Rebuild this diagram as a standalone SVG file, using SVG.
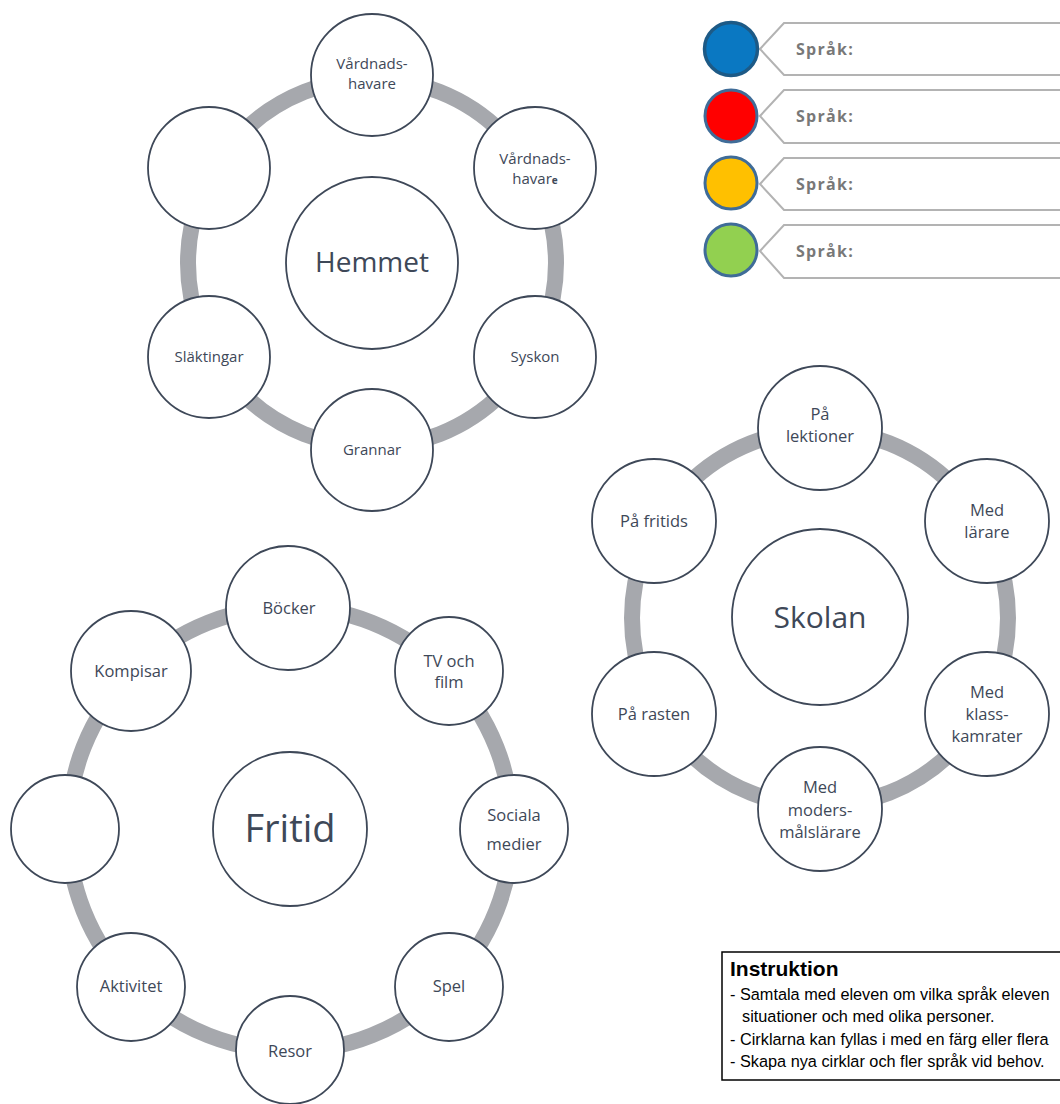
<svg xmlns="http://www.w3.org/2000/svg" width="1060" height="1104" viewBox="0 0 1060 1104">
<style>
.ring{fill:none;stroke:#a6a8ad;stroke-width:16}
.n{fill:#fff;stroke:#3e4858;stroke-width:1.8}
.t{font-family:"Open Sans","Noto Sans",sans-serif;fill:#3e4858;text-anchor:middle}
.s15{font-size:15px}
.s16{font-size:16.5px}
.tag{fill:#fff;stroke:#b3b3b3;stroke-width:2}
.lg{font-family:"Open Sans","DejaVu Sans",sans-serif;font-weight:bold;font-size:16px;fill:#787878;letter-spacing:1.3px}
.dot{stroke:#3f6c98;stroke-width:3}
.ins{font-family:"Liberation Sans",Arial,sans-serif;fill:#000}
</style>
<rect width="1060" height="1104" fill="#fff"/>
<g id="connectors">
<circle class="ring" cx="372" cy="263" r="184"/>
<circle class="ring" cx="820" cy="618" r="188"/>
<circle class="ring" cx="290" cy="829" r="222"/>
</g>
<g id="hemmet">
<g id="hemmet-center"><circle class="n" cx="372" cy="263" r="86"/><text class="t" x="372" y="272" font-size="28">Hemmet</text></g>
<g id="h-vardnadshavare1"><circle class="n" cx="372" cy="75" r="61"/><text class="t s15" x="372" y="69">Vårdnads-</text><text class="t s15" x="372" y="89">havare</text></g>
<g id="h-vardnadshavare2"><circle class="n" cx="535" cy="168" r="61"/><text class="t s15" x="535" y="164">Vårdnads-</text><text class="t s15" x="535" y="184">havar<tspan font-size="10" font-weight="bold">e</tspan></text></g>
<g id="h-syskon"><circle class="n" cx="535" cy="357" r="61"/><text class="t s15" x="535" y="362">Syskon</text></g>
<g id="h-grannar"><circle class="n" cx="372" cy="450" r="61"/><text class="t s15" x="372" y="455">Grannar</text></g>
<g id="h-slaktingar"><circle class="n" cx="209" cy="357" r="61"/><text class="t s15" x="209" y="362">Släktingar</text></g>
<g id="h-empty"><circle class="n" cx="209" cy="168" r="61"/></g>
</g>
<g id="skolan">
<g id="skolan-center"><circle class="n" cx="820" cy="617" r="88"/><text class="t" x="820" y="628" font-size="30">Skolan</text></g>
<g id="s-lektioner"><circle class="n" cx="820" cy="428" r="62"/><text class="t s16" x="820" y="420">På</text><text class="t s16" x="820" y="442">lektioner</text></g>
<g id="s-larare"><circle class="n" cx="987" cy="521" r="62"/><text class="t s16" x="987" y="516">Med</text><text class="t s16" x="987" y="538">lärare</text></g>
<g id="s-klasskamrater"><circle class="n" cx="987" cy="714" r="62"/><text class="t s16" x="987" y="698">Med</text><text class="t s16" x="987" y="720">klass-</text><text class="t s16" x="987" y="742">kamrater</text></g>
<g id="s-modersmal"><circle class="n" cx="820" cy="809" r="62"/><text class="t s16" x="820" y="793">Med</text><text class="t s16" x="820" y="816">moders-</text><text class="t s16" x="820" y="838">målslärare</text></g>
<g id="s-rasten"><circle class="n" cx="654" cy="714" r="62"/><text class="t s16" x="654" y="720">På rasten</text></g>
<g id="s-fritids"><circle class="n" cx="654" cy="521" r="62"/><text class="t s16" x="654" y="527">På fritids</text></g>
</g>
<g id="fritid">
<g id="fritid-center"><circle class="n" cx="290" cy="829" r="77"/><text class="t" x="290" y="842" font-size="38">Fritid</text></g>
<g id="f-bocker"><circle class="n" cx="288" cy="608" r="62"/><text class="t s16" x="289" y="614">Böcker</text></g>
<g id="f-tv"><circle class="n" cx="449" cy="671" r="54"/><text class="t s16" x="449" y="667">TV och</text><text class="t s16" x="449" y="688">film</text></g>
<g id="f-sociala"><circle class="n" cx="514" cy="829" r="54"/><text class="t s16" x="514" y="821">Sociala</text><text class="t s16" x="514" y="850">medier</text></g>
<g id="f-spel"><circle class="n" cx="449" cy="987" r="54"/><text class="t s16" x="449" y="992">Spel</text></g>
<g id="f-resor"><circle class="n" cx="290" cy="1050" r="54"/><text class="t s16" x="290" y="1057">Resor</text></g>
<g id="f-aktivitet"><circle class="n" cx="131" cy="987" r="54"/><text class="t s16" x="131" y="992">Aktivitet</text></g>
<g id="f-empty"><circle class="n" cx="65" cy="829" r="54"/></g>
<g id="f-kompisar"><circle class="n" cx="131" cy="671" r="60"/><text class="t s16" x="131" y="677">Kompisar</text></g>
</g>
<g id="legend">
<g id="lg-blue"><polygon class="tag" points="760,49 784,23 1090,23 1090,75 784,75"/><circle cx="731" cy="49" r="26.5" fill="#0a78c2" stroke="#1d5a86" stroke-width="3.5"/><text class="lg" x="796" y="55">Språk:</text></g>
<g id="lg-red"><polygon class="tag" points="760,116 784,90 1090,90 1090,143 784,143"/><circle class="dot" cx="731" cy="116" r="26" fill="#ff0000"/><text class="lg" x="796" y="122">Språk:</text></g>
<g id="lg-yellow"><polygon class="tag" points="760,184 784,158 1090,158 1090,210 784,210"/><circle class="dot" cx="731" cy="183" r="26" fill="#ffc000"/><text class="lg" x="796" y="190">Språk:</text></g>
<g id="lg-green"><polygon class="tag" points="760,251 784,225 1090,225 1090,278 784,278"/><circle class="dot" cx="731" cy="250" r="26" fill="#92d050"/><text class="lg" x="796" y="257">Språk:</text></g>
</g>
<g id="instruktion">
<rect x="722" y="952" width="400" height="128" fill="#fff" stroke="#000" stroke-width="1.5"/>
<text class="ins" x="730" y="976" font-size="21" font-weight="bold">Instruktion</text>
<text class="ins" x="730" y="1000" font-size="16.3">- Samtala med eleven om vilka språk eleven</text>
<text class="ins" x="742" y="1022" font-size="16.3">situationer och med olika personer.</text>
<text class="ins" x="730" y="1045" font-size="16.3">- Cirklarna kan fyllas i med en färg eller flera</text>
<text class="ins" x="730" y="1067" font-size="16.3">- Skapa nya cirklar och fler språk vid behov.</text>
</g>
</svg>
